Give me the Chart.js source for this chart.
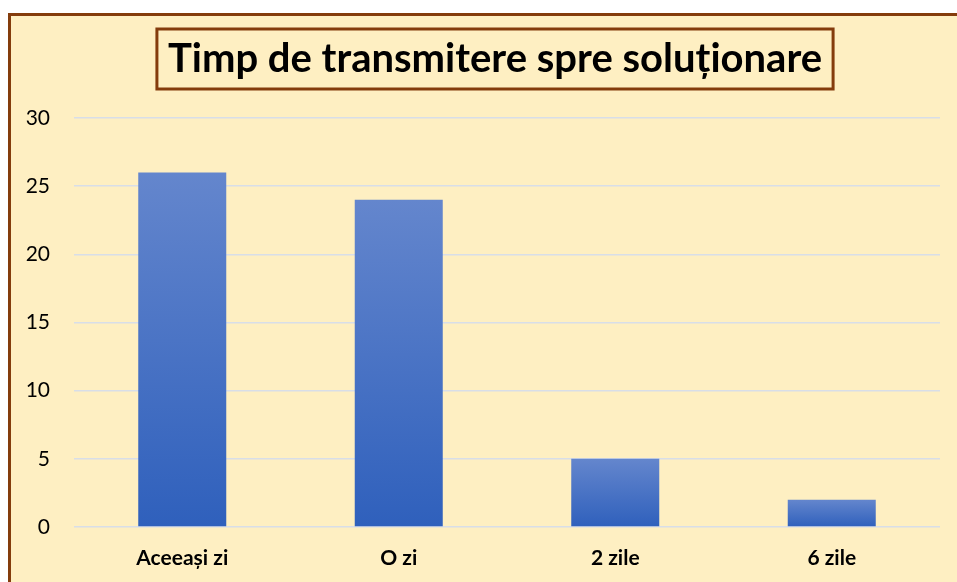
<!DOCTYPE html>
<html>
<head>
<meta charset="utf-8">
<script src="https://cdn.jsdelivr.net/npm/chart.js@4.4.1/dist/chart.umd.min.js"></script>
<style>
  html, body { margin: 0; padding: 0; background: #ffffff; width: 957px; height: 582px; overflow: hidden; }
  #frame { position: absolute; left: 8px; top: 13px; width: 990px; height: 600px; background: #FEEFC2; border: 3px solid #843C0C; box-sizing: border-box; }
  #c { position: absolute; left: 0; top: 0; }
</style>
</head>
<body>
<div id="frame"></div>
<canvas id="c" width="957" height="582"></canvas>
<script>
const titleText = 'Timp de transmitere spre soluționare';
const categories = ['Aceeași zi', 'O zi', '2 zile', '6 zile'];
const values = [26, 24, 5, 2];
const yTicks = [0, 5, 10, 15, 20, 25, 30];

const titleBoxPlugin = {
  id: 'titleBox',
  afterLayout(chart) {
    // the original chart frame extends beyond the visible crop on the right,
    // so its title is centred on a wider box than this canvas
    const tb = chart.titleBlock;
    if (tb) { tb.left = 50; tb.right = 940; tb.width = 890; }
  },
  afterDraw(chart) {
    const tb = chart.titleBlock;
    if (!tb) return;
    const ctx = chart.ctx;
    ctx.save();
    ctx.font = 'bold 40px Lato';
    const w = ctx.measureText(titleText).width;
    const cx = (tb.left + tb.right) / 2;
    const cy = tb.top + tb.height / 2;
    ctx.strokeStyle = '#843C0C';
    ctx.lineWidth = 3;
    ctx.strokeRect(cx - w / 2 - 11, cy - 30, w + 22, 60);
    ctx.restore();
  }
};

function barGradient(context) {
  const chart = context.chart;
  const ys = chart.scales.y;
  if (!ys || context.parsed === undefined || context.type !== 'data') return '#4472C4';
  const top = ys.getPixelForValue(context.parsed.y);
  const base = ys.getPixelForValue(0);
  if (!isFinite(top) || !isFinite(base) || top === base) return '#4472C4';
  const g = chart.ctx.createLinearGradient(0, top, 0, base);
  g.addColorStop(0, '#6486CD');
  g.addColorStop(1, '#2F60BC');
  return g;
}

new Chart(document.getElementById('c'), {
  type: 'bar',
  data: {
    labels: categories,
    datasets: [{
      data: values,
      backgroundColor: barGradient,
      borderWidth: 0,
      barPercentage: 0.4065,
      categoryPercentage: 1
    }]
  },
  options: {
    responsive: false,
    animation: false,
    layout: { padding: { left: 0, right: 17, top: 0, bottom: 0 } },
    plugins: {
      legend: { display: false },
      tooltip: { enabled: false },
      title: {
        display: true,
        text: titleText,
        color: '#000000',
        font: { family: 'Lato', size: 40, weight: 'bold', lineHeight: 1.2 },
        padding: { top: 35, bottom: 35 }
      }
    },
    scales: {
      x: {
        grid: { display: false, drawTicks: false },
        border: { display: false },
        ticks: { color: '#000000', font: { family: 'Lato', size: 21, weight: 'bold' }, padding: 19, maxRotation: 0 },
        afterFit(s) { s.height = 55; }
      },
      y: {
        min: 0,
        max: 30,
        afterBuildTicks(s) { s.ticks = yTicks.map(v => ({ value: v })); },
        grid: { color: '#D8DEE8', lineWidth: 1.5, drawTicks: false },
        border: { display: false },
        ticks: { color: '#000000', font: { family: 'Lato', size: 21 }, padding: 24 },
        afterFit(s) { s.width = 74; }
      }
    }
  },
  plugins: [titleBoxPlugin]
});
</script>
</body>
</html>
